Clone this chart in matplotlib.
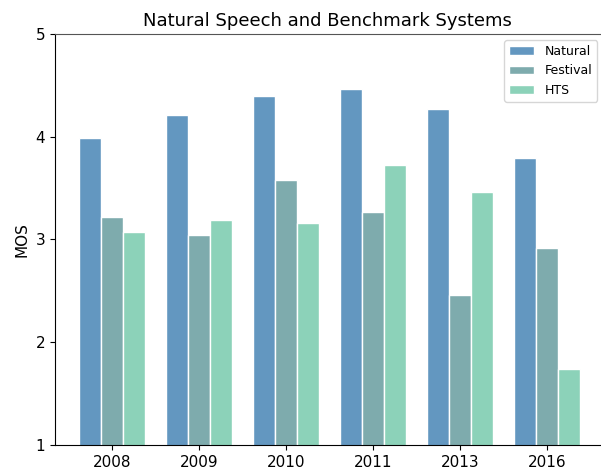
import numpy as np
import matplotlib
matplotlib.use('Agg')
import matplotlib.pyplot as plt

# Datos
years = ['2008', '2009', '2010', '2011', '2013', '2016']
natural = [3.99, 4.21, 4.40, 4.46, 4.27, 3.79]
festival = [3.22, 3.04, 3.58, 3.27, 2.46, 2.92]
hts = [3.07, 3.19, 3.16, 3.72, 3.46, 1.74]

fig = plt.figure(figsize=(6.01, 4.70), dpi=100)
ax = fig.add_axes([0.0915, 0.053, 0.907, 0.875])

x = np.arange(len(years))
w = 0.25
ax.bar(x - w, natural, w, color='#6397c0', edgecolor='white', linewidth=1, label='Natural')
ax.bar(x, festival, w, color='#7eabad', edgecolor='white', linewidth=1, label='Festival')
ax.bar(x + w, hts, w, color='#8cd2b9', edgecolor='white', linewidth=1, label='HTS')

ax.set_ylim(1, 5)
ax.set_xlim(-0.655, 5.61)
ax.set_yticks([1, 2, 3, 4, 5])
ax.set_xticks(x)
ax.set_xticklabels(years)
ax.tick_params(labelsize=11)
ax.set_ylabel('MOS', fontsize=11)
ax.set_title('Natural Speech and Benchmark Systems', fontsize=13)
ax.spines['right'].set_visible(False)
ax.spines['top'].set_color('#555555')
ax.legend(loc='upper right', fontsize=9, bbox_to_anchor=(1.006, 1.0))

fig.savefig('out.png', dpi=100)
